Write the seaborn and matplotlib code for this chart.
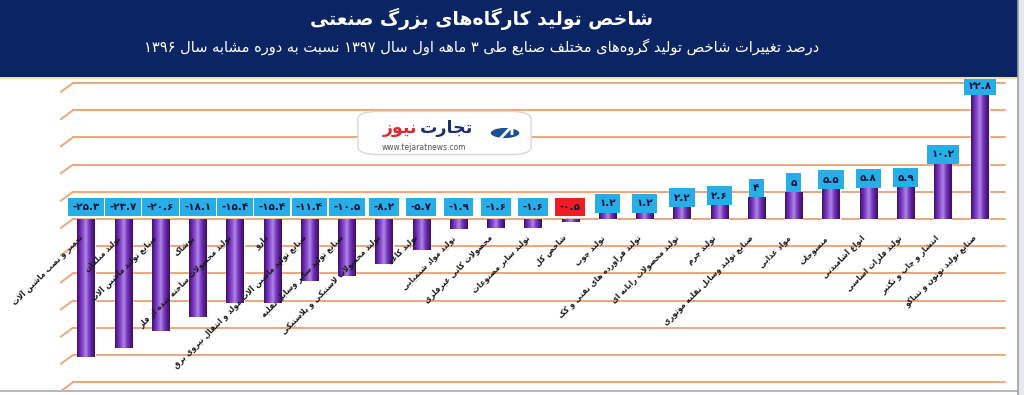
import re
import numpy as np
import pandas as pd
import matplotlib
matplotlib.use("Agg")
import matplotlib.pyplot as plt
from matplotlib.colors import LinearSegmentedColormap
from matplotlib.patches import Rectangle, FancyBboxPatch, Circle, Polygon
import seaborn as sns

# ---------------- data ----------------
categories = [
    "تعمیر و نصب ماشین آلات",
    "تولید مبلمان",
    "صنایع تولید ماشین آلات",
    "پوشاک",
    "تولید محصولات ساخته شده از فلز",
    "دارو",
    "صنایع تولید ماشین آلات مولد و انتقال نیروی برق",
    "صنایع تولید سایر وسایل نقلیه",
    "تولید محصولات لاستیکی و پلاستیکی",
    "تولید کاغذ",
    "تولید مواد شیمیایی",
    "محصولات کانی غیرفلزی",
    "تولید سایر مصنوعات",
    "شاخص کل",
    "تولید چوب",
    "تولید فرآورده های نفتی و کک",
    "تولید محصولات رایانه ای",
    "تولید چرم",
    "صنایع تولید وسایل نقلیه موتوری",
    "مواد غذایی",
    "منسوجات",
    "انواع آشامیدنی",
    "تولید فلزات اساسی",
    "انتشار و چاپ و تکثیر",
    "صنایع تولید توتون و تنباکو",
]
values = [-25.3, -23.7, -20.6, -18.1, -15.4, -15.4, -11.4, -10.5, -8.2, -5.7,
          -1.9, -1.6, -1.6, -0.5, 1.2, 1.2, 2.2, 2.6, 4, 5, 5.5, 5.8, 5.9, 10.2, 22.8]
highlight = "شاخص کل"
title = "شاخص تولید کارگاه\u200cهای بزرگ صنعتی"
subtitle = ("درصد تغییرات شاخص تولید گروه\u200cهای مختلف صنایع طی ۳ ماهه اول سال ۱۳۹۷ "
            "نسبت به دوره مشابه سال ۱۳۹۶")
logo_a = "تجارت"
logo_b = "نیوز"
logo_url = "www.tejaratnews.com"

# ---------------- minimal Persian shaping + bidi ----------------
FORMS = {
    '\u0627': (0xFE8D, 0xFE8E, None, None), '\u0622': (0xFE81, 0xFE82, None, None),
    '\u0623': (0xFE83, 0xFE84, None, None), '\u0625': (0xFE87, 0xFE88, None, None),
    '\u0624': (0xFE85, 0xFE86, None, None), '\u0626': (0xFE89, 0xFE8A, 0xFE8B, 0xFE8C),
    '\u0628': (0xFE8F, 0xFE90, 0xFE91, 0xFE92), '\u0629': (0xFE93, 0xFE94, None, None),
    '\u062A': (0xFE95, 0xFE96, 0xFE97, 0xFE98), '\u062B': (0xFE99, 0xFE9A, 0xFE9B, 0xFE9C),
    '\u062C': (0xFE9D, 0xFE9E, 0xFE9F, 0xFEA0), '\u062D': (0xFEA1, 0xFEA2, 0xFEA3, 0xFEA4),
    '\u062E': (0xFEA5, 0xFEA6, 0xFEA7, 0xFEA8), '\u062F': (0xFEA9, 0xFEAA, None, None),
    '\u0630': (0xFEAB, 0xFEAC, None, None), '\u0631': (0xFEAD, 0xFEAE, None, None),
    '\u0632': (0xFEAF, 0xFEB0, None, None), '\u0633': (0xFEB1, 0xFEB2, 0xFEB3, 0xFEB4),
    '\u0634': (0xFEB5, 0xFEB6, 0xFEB7, 0xFEB8), '\u0635': (0xFEB9, 0xFEBA, 0xFEBB, 0xFEBC),
    '\u0636': (0xFEBD, 0xFEBE, 0xFEBF, 0xFEC0), '\u0637': (0xFEC1, 0xFEC2, 0xFEC3, 0xFEC4),
    '\u0638': (0xFEC5, 0xFEC6, 0xFEC7, 0xFEC8), '\u0639': (0xFEC9, 0xFECA, 0xFECB, 0xFECC),
    '\u063A': (0xFECD, 0xFECE, 0xFECF, 0xFED0), '\u0641': (0xFED1, 0xFED2, 0xFED3, 0xFED4),
    '\u0642': (0xFED5, 0xFED6, 0xFED7, 0xFED8), '\u0643': (0xFED9, 0xFEDA, 0xFEDB, 0xFEDC),
    '\u0644': (0xFEDD, 0xFEDE, 0xFEDF, 0xFEE0), '\u0645': (0xFEE1, 0xFEE2, 0xFEE3, 0xFEE4),
    '\u0646': (0xFEE5, 0xFEE6, 0xFEE7, 0xFEE8), '\u0647': (0xFEE9, 0xFEEA, 0xFEEB, 0xFEEC),
    '\u0648': (0xFEED, 0xFEEE, None, None), '\u0649': (0xFEEF, 0xFEF0, None, None),
    '\u064A': (0xFEF1, 0xFEF2, 0xFEF3, 0xFEF4), '\u067E': (0xFB56, 0xFB57, 0xFB58, 0xFB59),
    '\u0686': (0xFB7A, 0xFB7B, 0xFB7C, 0xFB7D), '\u0698': (0xFB8A, 0xFB8B, None, None),
    '\u06A9': (0xFB8E, 0xFB8F, 0xFB90, 0xFB91), '\u06AF': (0xFB92, 0xFB93, 0xFB94, 0xFB95),
    '\u06CC': (0xFBFC, 0xFBFD, 0xFBFE, 0xFBFF),
}
LAM_ALEF = {'\u0627': (0xFEFB, 0xFEFC), '\u0622': (0xFEF5, 0xFEF6),
            '\u0623': (0xFEF7, 0xFEF8), '\u0625': (0xFEF9, 0xFEFA)}


def fa(text):
    units, i = [], 0
    while i < len(text):
        c = text[i]
        if c == '\u0644' and i + 1 < len(text) and text[i + 1] in LAM_ALEF:
            units.append(('LA', text[i + 1]))
            i += 2
        else:
            units.append((c, None))
            i += 1

    def dual(u):
        return u[0] != 'LA' and u[0] in FORMS and FORMS[u[0]][2] is not None

    def joins(u):
        return u[0] == 'LA' or u[0] in FORMS

    out = []
    for k, u in enumerate(units):
        c, a = u
        prev = units[k - 1] if k > 0 else None
        nxt = units[k + 1] if k + 1 < len(units) else None
        cp = prev is not None and dual(prev) and joins(u)
        cn = dual(u) and nxt is not None and joins(nxt)
        if c == 'LA':
            iso, fin = LAM_ALEF[a]
            out.append(chr(fin if cp else iso))
        elif c in FORMS:
            f = FORMS[c]
            code = f[3] if (cp and cn) else f[1] if cp else f[2] if cn else f[0]
            out.append(chr(code))
        elif c == '\u200c':
            continue
        else:
            out.append(c)
    vis = ''.join(out)[::-1]
    vis = re.sub(r'[0-9\u06F0-\u06F9]+(?:[.\u066B][0-9\u06F0-\u06F9]+)*',
                 lambda m: m.group()[::-1], vis)
    return vis


def fa_num(v):
    s = ("%g" % v).replace('-', '')
    s = s.translate(str.maketrans('0123456789', '۰۱۲۳۴۵۶۷۸۹'))
    return ('-' if v < 0 else '') + s


# ---------------- figure ----------------
sns.set_theme(style="white")
plt.rcParams['font.family'] = ['DejaVu Sans']

W, H = 1024, 395
fig = plt.figure(figsize=(W / 100, H / 100), dpi=100)
fig.patch.set_facecolor('white')


def px(x, y):
    return x / W, 1 - y / H


# header band
fig.patches.append(Rectangle(px(0, 77), 1018 / W, 77 / H, transform=fig.transFigure,
                             facecolor='#0b2463', edgecolor='none', zorder=0))
fig.patches.append(Rectangle(px(0, 79), 1018 / W, 2 / H, transform=fig.transFigure,
                             facecolor='#eee0b0', edgecolor='none', zorder=0))
fig.patches.append(Rectangle(px(1018, 395), 6 / W, 395 / H, transform=fig.transFigure,
                             facecolor='#e6e8ec', edgecolor='none', zorder=0))
fig.lines.append(plt.Line2D([1018 / W, 1018 / W], [0, 1], transform=fig.transFigure,
                            color='#9aa0a8', lw=1.2))
fig.lines.append(plt.Line2D([0, 1018 / W], [1 - 390.5 / H] * 2, transform=fig.transFigure,
                            color='#a8acb2', lw=1.2))

fig.text(*px(482, 19), fa(title), color='white', fontsize=13.5, fontweight='bold',
         ha='center', va='center')
fig.text(*px(482, 47), fa(subtitle), color='white', fontsize=10.5,
         ha='center', va='center')

# axes
x0, x1 = 60, 1006
ytop, ybot = 81, 390
ax = fig.add_axes([x0 / W, 1 - ybot / H, (x1 - x0) / W, (ybot - ytop) / H])
ax.set_facecolor('none')

df = pd.DataFrame({'category': categories, 'value': values})
sns.barplot(data=df, x='category', y='value', color='#6a2aa6', width=0.46,
            saturation=1, ax=ax, zorder=3)

n = len(categories)
pad = (86 - x0) / 37.25
xlim = (-pad, n - 1 + pad)
ppu = 5.44
ylim = (-(ybot - 219) / ppu, (219 - ytop) / ppu)

# gridlines (with 3D wall slant at left)
grid_c = '#eca77c'
gx = xlim[0] + 13 / 37.25
for g in range(-30, 30, 5):
    ax.plot([gx, xlim[1] - 0.02], [g, g], color=grid_c, lw=1.4, zorder=1)
    ax.plot([xlim[0] + 0.02, gx], [g - 9 / ppu, g], color=grid_c, lw=1.4, zorder=1)

# cylinder shading clipped to each bar
cyl = LinearSegmentedColormap.from_list(
    'cyl', ['#3d1068', '#6a2ab0', '#8a4ed0', '#b48ae6', '#7a3cc2', '#5a1f96', '#3a0f62'])
grad = np.linspace(0, 1, 64).reshape(1, -1)
for p in ax.patches:
    bx, by = p.get_x(), p.get_y()
    bw, bh = p.get_width(), p.get_height()
    im = ax.imshow(grad, cmap=cyl, extent=[bx, bx + bw, by, by + bh], aspect='auto',
                   zorder=3.5, interpolation='bicubic')
    im.set_clip_path(p)

# value boxes and category labels
for xt, cat, v in zip(ax.get_xticks(), categories, values):
    yb = max(v, 0) + (1.7 if v > 0 else 2.2)
    face = '#ee1c24' if cat == highlight else '#27aee6'
    ax.text(xt, yb, fa_num(v), ha='center', va='center', fontsize=7.5, fontweight='bold',
            color='#14143c', zorder=6,
            bbox=dict(boxstyle='square,pad=0.42', facecolor=face, edgecolor='none'))
    ax.text(xt - 0.12, -3.2, fa(cat), rotation=45, rotation_mode='anchor',
            ha='right', va='center', fontsize=5.5, fontweight='bold', color='#1a1a1a',
            zorder=7)

ax.set_xlim(*xlim)
ax.set_ylim(*ylim)
ax.set_xticks([])
ax.set_yticks([])
ax.set_xlabel('')
ax.set_ylabel('')
for s in ax.spines.values():
    s.set_visible(False)

# logo
fig.patches.append(FancyBboxPatch(px(362, 153), 165 / W, 40 / H,
                                  boxstyle='round,pad=0.004,rounding_size=0.02',
                                  transform=fig.transFigure, facecolor='white',
                                  edgecolor='#d8d8d8', lw=1, zorder=8))
fig.text(*px(420, 128), fa(logo_a), color='#1b2f6e', fontsize=12.5, fontweight='bold',
         ha='left', va='center', zorder=9)
fig.text(*px(417, 128), fa(logo_b), color='#e0282e', fontsize=12.5, fontweight='bold',
         ha='right', va='center', zorder=9)
fig.text(*px(424, 148), logo_url, color='#555555', fontsize=5.5,
         ha='center', va='center', zorder=9)
fig.patches.append(Circle(px(505, 133), 15 / W, transform=fig.transFigure,
                          facecolor='#1d4f96', edgecolor='white', lw=1, zorder=9))
fig.patches.append(Polygon([px(497, 142), px(512, 126), px(503, 126), px(512, 126),
                            px(512, 135)], closed=False, transform=fig.transFigure,
                           facecolor='none', edgecolor='white', lw=2, zorder=10))

fig.savefig('out.png', dpi=100)
